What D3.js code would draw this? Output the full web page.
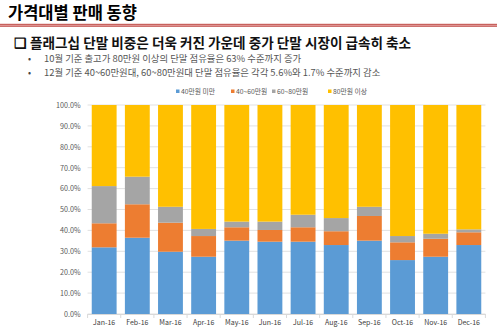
<!DOCTYPE html>
<html><head><meta charset="utf-8">
<script src="https://cdn.jsdelivr.net/npm/d3@7"></script>
<style>body{margin:0;background:#fff}svg{display:block}</style>
</head><body>
<script>
const months = ["Jan-16","Feb-16","Mar-16","Apr-16","May-16","Jun-16","Jul-16","Aug-16","Sep-16","Oct-16","Nov-16","Dec-16"];
const seriesNames = ["40만원 미만","40~60만원","60~80만원","80만원 이상"];
const under40 = [31.9,36.5,29.8,27.4,35.1,34.6,34.6,33.0,35.1,25.8,27.4,33.0];
const r40to60 = [11.5,16.0,13.9,9.9,6.4,5.6,6.9,6.6,11.8,8.5,8.6,6.1];
const r60to80 = [17.8,13.2,7.6,3.4,2.7,4.0,6.0,6.3,4.4,3.0,2.4,1.4];
const over80 = months.map((m,i)=>+(100-under40[i]-r40to60[i]-r60to80[i]).toFixed(1));
const yTicks = [0,10,20,30,40,50,60,70,80,90,100];
const colors = ["#5b9bd5","#ed7d31","#a5a5a5","#ffc000"];

const W=500,H=332;
const svg=d3.select("body").append("svg").attr("width",W).attr("height",H);
const font="'Noto Sans CJK KR','Noto Sans',sans-serif";

// header
svg.append("text").attr("x",8).attr("y",19).attr("font-family",font).attr("font-weight","bold")
  .attr("font-size",16.5).attr("fill","#000").text("가격대별 판매 동향");
svg.append("rect").attr("x",0).attr("y",23.8).attr("width",497).attr("height",3).attr("fill","#c0504d");
svg.append("rect").attr("x",0).attr("y",24.8).attr("width",497).attr("height",1).attr("fill","#e6a3a1");

svg.append("text").attr("x",14).attr("y",48).attr("font-family",font).attr("font-weight","bold")
  .attr("font-size",13.6).attr("fill","#111").text("❑ 플래그십 단말 비중은 더욱 커진 가운데 중가 단말 시장이 급속히 축소");
const bullets=["10월 기준 출고가 80만원 이상의 단말 점유율은 63% 수준까지 증가",
 "12월 기준 40~60만원대, 60~80만원대 단말 점유율은 각각 5.6%와 1.7% 수준까지 감소"];
bullets.forEach((b,i)=>{
  svg.append("text").attr("x",28).attr("y",62+i*13.5).attr("font-family",font).attr("font-size",9).attr("fill","#444").text("•");
  svg.append("text").attr("x",44).attr("y",62+i*13.5).attr("font-family",font).attr("font-size",9.4).attr("fill","#555").text(b);
});

// chart
const x=d3.scaleBand().domain(months).range([87.6,485.4]).paddingInner(0.25).paddingOuter(0.125);
const y=d3.scaleLinear().domain([0,100]).range([314,105]);

const g=svg.append("g");
g.selectAll("line.grid").data(yTicks).join("line").attr("class","grid")
  .attr("x1",87.6).attr("x2",485.4).attr("y1",d=>y(d)).attr("y2",d=>y(d))
  .attr("stroke","#d9d9d9").attr("stroke-width",0.8);

const yAxis=g.append("g").attr("transform","translate(87.6,0)")
  .call(d3.axisLeft(y).tickValues(yTicks).tickFormat(d=>d.toFixed(1)+"%").tickSize(0).tickPadding(7));
yAxis.select(".domain").remove();
yAxis.selectAll("text").attr("font-family",font).attr("font-size",7.2).attr("fill","#595959");

const data=months.map((m,i)=>({month:m,a:under40[i],b:r40to60[i],c:r60to80[i],d:over80[i]}));
const stack=d3.stack().keys(["a","b","c","d"])(data);
stack.forEach((s,k)=>{
  g.append("g").attr("fill",colors[k]).selectAll("rect").data(s).join("rect")
   .attr("x",d=>x(d.data.month)).attr("width",x.bandwidth())
   .attr("y",d=>y(d[1])).attr("height",d=>y(d[0])-y(d[1]));
});

const xAxis=g.append("g").attr("transform","translate(0,314)")
  .call(d3.axisBottom(x).tickSize(0).tickPadding(6));
xAxis.select(".domain").attr("stroke","#d9d9d9");
xAxis.selectAll("text").attr("font-family",font).attr("font-size",7).attr("fill","#404040");
g.selectAll("line.xt").data(d3.range(13)).join("line").attr("class","xt")
  .attr("x1",i=>87.6+i*x.step()).attr("x2",i=>87.6+i*x.step()).attr("y1",314).attr("y2",318)
  .attr("stroke","#d9d9d9");

// legend
const legX=[176,231,272,328];
seriesNames.forEach((n,i)=>{
  svg.append("rect").attr("x",legX[i]).attr("y",89.5).attr("width",3.5).attr("height",3.5).attr("fill",colors[i]);
  svg.append("text").attr("x",legX[i]+5).attr("y",94).attr("font-family",font).attr("font-size",6.8)
    .attr("fill","#595959").text(n);
});
</script>
</body></html>
